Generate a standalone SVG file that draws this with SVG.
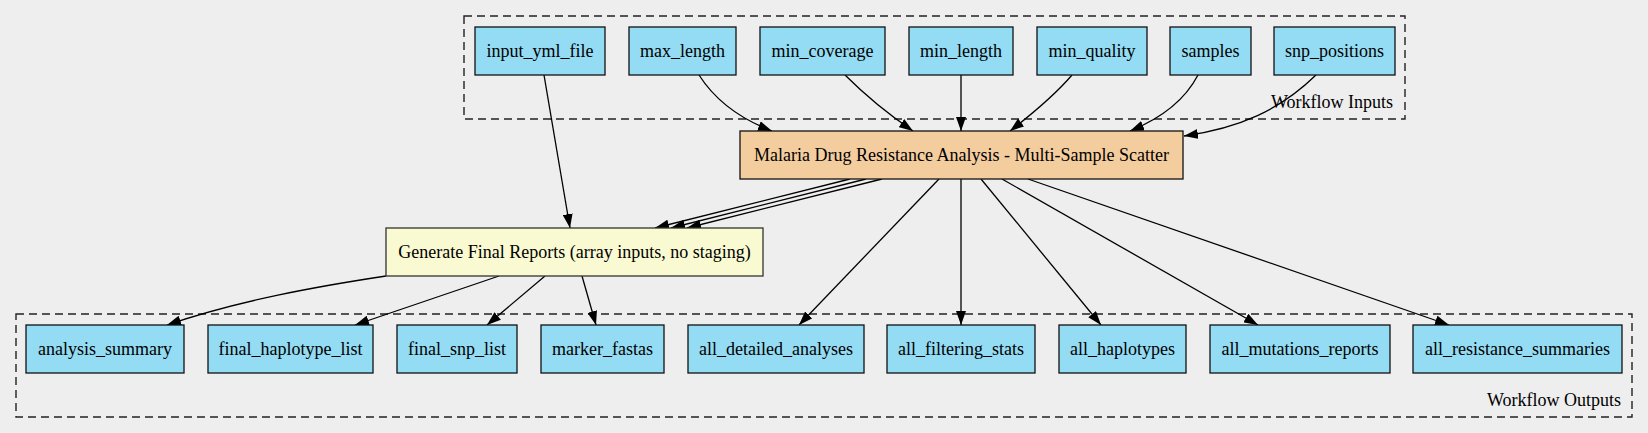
<svg xmlns="http://www.w3.org/2000/svg" width="1648" height="433" viewBox="0 0 1648 433">
<style>
  .bg { fill: #eeeeee; }
  .cluster { fill: none; stroke: #222222; stroke-width: 1.4; stroke-dasharray: 8,5; }
  .io { fill: #94dcf4; stroke: #111111; stroke-width: 1.3; }
  .step { fill: #f4cd9f; stroke: #111111; stroke-width: 1.3; }
  .final { fill: #fafad2; stroke: #333333; stroke-width: 1.3; }
  text { font-family: "Liberation Serif", "Times New Roman", serif; font-size: 18px; fill: #000000; }
  .lbl { text-anchor: middle; }
  .clabel { text-anchor: end; }
  .edge { fill: none; stroke: #000000; stroke-width: 1.3; marker-end: url(#arrow); }
</style>
<defs>
  <marker id="arrow" viewBox="0 0 14 10" refX="14" refY="5" markerWidth="14" markerHeight="10" markerUnits="userSpaceOnUse" orient="auto">
    <path d="M0,0 L14,5 L0,10 Z" fill="#000000"/>
  </marker>
</defs>
<rect class="bg" x="0" y="0" width="1648" height="433"/>

<g id="cluster_inputs">
  <rect class="cluster" x="464" y="16" width="941" height="103"/>
  <text class="clabel" x="1393" y="108">Workflow Inputs</text>
</g>
<g id="cluster_outputs">
  <rect class="cluster" x="16" y="314" width="1616" height="103"/>
  <text class="clabel" x="1621" y="406">Workflow Outputs</text>
</g>

<g id="connectors">
  <path class="edge" d="M544,75 L570,228"/>
  <path class="edge" d="M699,75 C715,100 738,118 772,131"/>
  <path class="edge" d="M845,75 C865,95 888,114 913,131"/>
  <path class="edge" d="M961,75 L961,131"/>
  <path class="edge" d="M1072,75 C1055,95 1032,114 1010,131"/>
  <path class="edge" d="M1198,75 C1185,100 1162,118 1130,131"/>
  <path class="edge" d="M1316,75 C1280,110 1240,128 1184,136"/>
  <path class="edge" d="M850,179 L655,228"/>
  <path class="edge" d="M866,179 L671,228"/>
  <path class="edge" d="M882,179 L687,228"/>
  <path class="edge" d="M939,179 L799,325"/>
  <path class="edge" d="M961,179 L961,325"/>
  <path class="edge" d="M981,179 L1101,325"/>
  <path class="edge" d="M1002,179 L1258,325"/>
  <path class="edge" d="M1028,179 L1449,325"/>
  <path class="edge" d="M386,276 C320,286 240,300 167,325"/>
  <path class="edge" d="M499,276 L355,325"/>
  <path class="edge" d="M545,276 L487,325"/>
  <path class="edge" d="M582,276 L596,325"/>
</g>

<g id="input_yml_file"><rect class="io" x="475" y="27" width="130" height="48"/><text class="lbl" x="540" y="57">input_yml_file</text></g>
<g id="max_length"><rect class="io" x="629" y="27" width="107" height="48"/><text class="lbl" x="682.5" y="57">max_length</text></g>
<g id="min_coverage"><rect class="io" x="760" y="27" width="125" height="48"/><text class="lbl" x="822.5" y="57">min_coverage</text></g>
<g id="min_length"><rect class="io" x="909" y="27" width="104" height="48"/><text class="lbl" x="961" y="57">min_length</text></g>
<g id="min_quality"><rect class="io" x="1037" y="27" width="110" height="48"/><text class="lbl" x="1092" y="57">min_quality</text></g>
<g id="samples"><rect class="io" x="1170" y="27" width="81" height="48"/><text class="lbl" x="1210.5" y="57">samples</text></g>
<g id="snp_positions"><rect class="io" x="1274" y="27" width="121" height="48"/><text class="lbl" x="1334.5" y="57">snp_positions</text></g>

<g id="malaria_scatter"><rect class="step" x="740" y="131" width="443" height="48"/><text class="lbl" x="961.5" y="161">Malaria Drug Resistance Analysis - Multi-Sample Scatter</text></g>
<g id="generate_final_reports"><rect class="final" x="386" y="228" width="377" height="48"/><text class="lbl" x="574.5" y="258">Generate Final Reports (array inputs, no staging)</text></g>

<g id="analysis_summary"><rect class="io" x="26" y="325" width="158" height="48"/><text class="lbl" x="105" y="355">analysis_summary</text></g>
<g id="final_haplotype_list"><rect class="io" x="208" y="325" width="165" height="48"/><text class="lbl" x="290.5" y="355">final_haplotype_list</text></g>
<g id="final_snp_list"><rect class="io" x="397" y="325" width="120" height="48"/><text class="lbl" x="457" y="355">final_snp_list</text></g>
<g id="marker_fastas"><rect class="io" x="541" y="325" width="123" height="48"/><text class="lbl" x="602.5" y="355">marker_fastas</text></g>
<g id="all_detailed_analyses"><rect class="io" x="688" y="325" width="176" height="48"/><text class="lbl" x="776" y="355">all_detailed_analyses</text></g>
<g id="all_filtering_stats"><rect class="io" x="887" y="325" width="148" height="48"/><text class="lbl" x="961" y="355">all_filtering_stats</text></g>
<g id="all_haplotypes"><rect class="io" x="1059" y="325" width="127" height="48"/><text class="lbl" x="1122.5" y="355">all_haplotypes</text></g>
<g id="all_mutations_reports"><rect class="io" x="1210" y="325" width="180" height="48"/><text class="lbl" x="1300" y="355">all_mutations_reports</text></g>
<g id="all_resistance_summaries"><rect class="io" x="1413" y="325" width="209" height="48"/><text class="lbl" x="1517.5" y="355">all_resistance_summaries</text></g>
</svg>
